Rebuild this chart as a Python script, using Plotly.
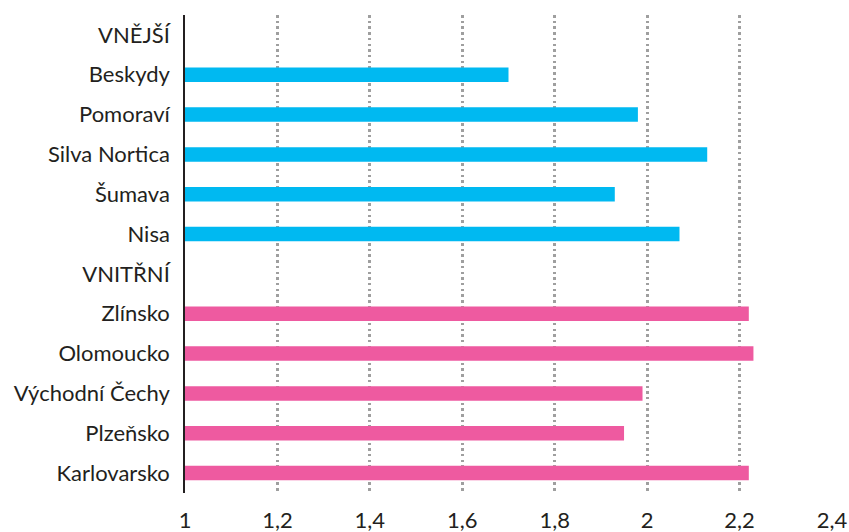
import plotly.graph_objects as go

categories = ["VNĚJŠÍ", "Beskydy", "Pomoraví", "Silva Nortica", "Šumava", "Nisa",
              "VNITŘNÍ", "Zlínsko", "Olomoucko", "Východní Čechy", "Plzeňsko", "Karlovarsko"]
outer_regions = ["Beskydy", "Pomoraví", "Silva Nortica", "Šumava", "Nisa"]
outer_values = [1.70, 1.98, 2.13, 1.93, 2.07]
inner_regions = ["Zlínsko", "Olomoucko", "Východní Čechy", "Plzeňsko", "Karlovarsko"]
inner_values = [2.22, 2.23, 1.99, 1.95, 2.22]
tick_vals = [1, 1.2, 1.4, 1.6, 1.8, 2, 2.2, 2.4]
tick_text = ["1", "1,2", "1,4", "1,6", "1,8", "2", "2,2", "2,4"]

FONT = "Lato, Noto Sans, sans-serif"

fig = go.Figure()
fig.add_trace(go.Bar(y=outer_regions, x=outer_values, orientation="h",
                     marker=dict(color="#00B9F1", line=dict(width=0)), width=0.365))
fig.add_trace(go.Bar(y=inner_regions, x=inner_values, orientation="h",
                     marker=dict(color="#EE5AA0", line=dict(width=0)), width=0.365))

fig.update_layout(
    width=849, height=532,
    margin=dict(l=185, r=17, t=15, b=39, autoexpand=False),
    barmode="overlay",
    showlegend=False,
    plot_bgcolor="white", paper_bgcolor="white",
    font=dict(family=FONT, size=22, color="#231F20"),
    xaxis=dict(range=[1, 2.4], tickvals=tick_vals, ticktext=tick_text,
               showgrid=True, gridcolor="#9f9f9f", griddash="2.5px,3.2px", gridwidth=2.5,
               zeroline=False, showline=False, ticks="", ticklabelstandoff=12,
               automargin=False, tickfont=dict(size=22)),
    yaxis=dict(categoryorder="array", categoryarray=categories, tickvals=categories,
               range=[len(categories) - 0.5, -0.5],
               showline=True, linecolor="#231F20", linewidth=1.5,
               showgrid=False, zeroline=False, ticks="", ticklabelstandoff=9,
               automargin=False, tickfont=dict(size=22)),
)
fig.write_html("out.html", config={"displayModeBar": False},
               post_script="document.body.style.margin='0';")
